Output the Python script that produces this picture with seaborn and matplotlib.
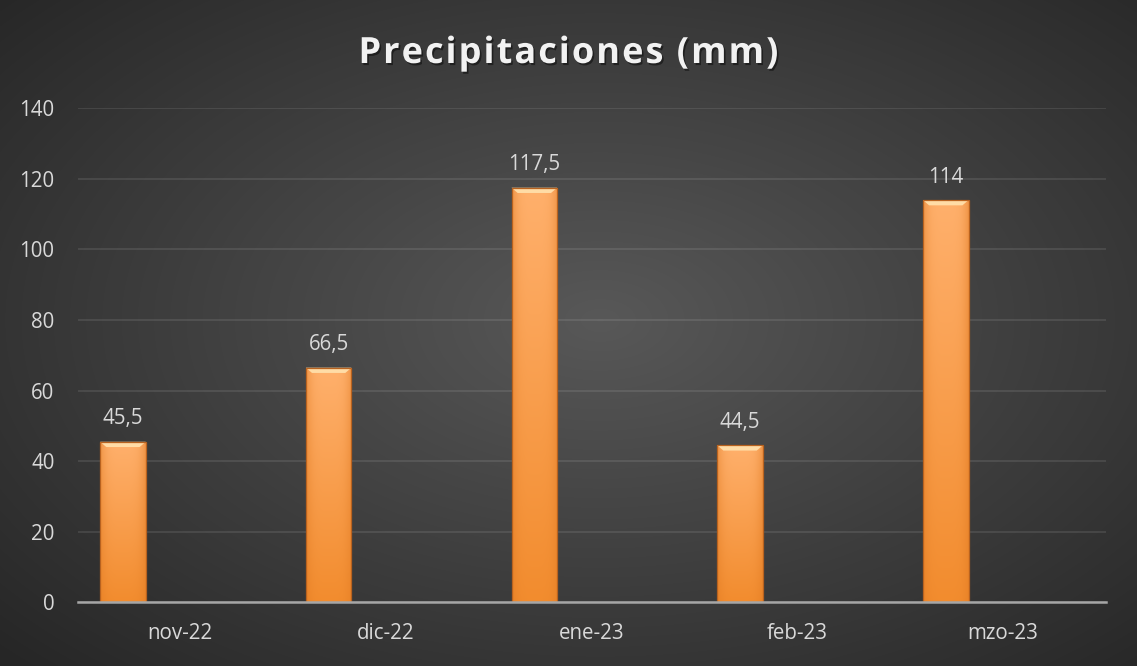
import numpy as np
import pandas as pd
import seaborn as sns
import matplotlib.pyplot as plt
import matplotlib.patheffects as pe
from matplotlib.colors import LinearSegmentedColormap, to_rgb
from matplotlib.patches import Polygon

# datos
meses = ["nov-22", "dic-22", "ene-23", "feb-23", "mzo-23"]
precipitacion = [45.5, 66.5, 117.5, 44.5, 114]
etiquetas = ["45,5", "66,5", "117,5", "44,5", "114"]
y_ticks = [0, 20, 40, 60, 80, 100, 120, 140]
titulo = "Precipitaciones (mm)"

sns.set_theme(style="dark")
plt.rcParams["font.family"] = ["Open Sans", "DejaVu Sans"]

W, H = 1137, 666
fig = plt.figure(figsize=(W / 100, H / 100), dpi=100)

# fondo con degradado radial
bg = fig.add_axes([0, 0, 1, 1], zorder=-10)
yy, xx = np.mgrid[0:H, 0:W]
r = np.sqrt(((xx - 600) / 720) ** 2 + ((yy - 320) / 430) ** 2)
bg_cmap = LinearSegmentedColormap.from_list("bg", ["#585858", "#262626"])
bg.imshow(r, cmap=bg_cmap, vmin=0, vmax=1.15, aspect="auto", extent=[0, 1, 0, 1])
bg.axis("off")

ax = fig.add_axes([77.5 / W, 1 - 602.3 / H, (1106 - 77.5) / W, (602.3 - 108.3) / H])
ax.patch.set_alpha(0)

df = pd.DataFrame({"mes": meses, "mm": precipitacion})
sns.barplot(data=df, x="mes", y="mm", order=meses, width=0.222,
            color="#f7963f", saturation=1, ax=ax, zorder=3,
            edgecolor="#b8621f", linewidth=0.9)

# las barras van a la izquierda de cada categoria (serie vacia a la derecha)
bars = list(ax.patches)
for p in bars:
    p.set_x(p.get_x() - 0.279)

# degradado naranja dentro de cada barra
light = np.array(to_rgb("#ffb06c"))
dark = np.array(to_rgb("#f28c2e"))
edge = np.array(to_rgb("#e07a22"))
ny, nx = 200, 40
tv = np.linspace(0, 1, ny)[:, None, None]
hx = np.abs(np.linspace(-1, 1, nx))[None, :, None] ** 4
grad = light * (1 - tv) + dark * tv
grad = grad * (1 - 0.5 * hx) + edge * 0.5 * hx
for p in bars:
    x0, w, h = p.get_x(), p.get_width(), p.get_height()
    im = ax.imshow(grad, extent=[x0, x0 + w, 0, h], aspect="auto", zorder=3.5)
    im.set_clip_path(p)
    dx, dy = 0.03, 1.5
    bevel = Polygon([(x0, h), (x0 + w, h), (x0 + w - dx, h - dy), (x0 + dx, h - dy)],
                    closed=True, facecolor="#ffdca6", edgecolor="none", zorder=3.6)
    ax.add_patch(bevel)
    p.set_facecolor("none")
    p.set_zorder(3.7)

ax.bar_label(ax.containers[0], labels=etiquetas, padding=9,
             color="#d9d9d9", fontsize=14.8)

ax.set_xlim(-0.5, len(meses) - 0.5)
ax.set_ylim(0, 140)
ax.set_yticks(y_ticks)
ax.set_xlabel("")
ax.set_ylabel("")
ax.tick_params(axis="y", length=0, pad=16.5, labelsize=14.8, labelcolor="#d9d9d9")
ax.tick_params(axis="x", length=0, pad=15, labelsize=14.8, labelcolor="#d9d9d9")

ax.yaxis.grid(True, color="white", alpha=0.1, linewidth=1.3, zorder=0)
ax.xaxis.grid(False)
ax.set_axisbelow(True)
for s in ["top", "right", "left"]:
    ax.spines[s].set_visible(False)
ax.spines["bottom"].set_color("#a6a6a6")
ax.spines["bottom"].set_linewidth(1.8)
ax.spines["bottom"].set_zorder(4)

# titulo con espaciado entre letras
title_kw = dict(fontsize=26, fontweight="bold", color="#f2f2f2", va="baseline",
                path_effects=[pe.SimplePatchShadow(offset=(1.2, -1.5), shadow_rgbFace="black", alpha=0.45),
                              pe.Normal()])
renderer = fig.canvas.get_renderer()
spacing = 2.0  # px
widths = []
for ch in titulo:
    t = fig.text(0, 0, ch if ch != " " else "a a", **title_kw)
    wpx = t.get_window_extent(renderer).width
    if ch == " ":
        t2 = fig.text(0, 0, "aa", **title_kw)
        wpx = wpx - t2.get_window_extent(renderer).width
        t2.remove()
    t.remove()
    widths.append(wpx)
total = sum(widths) + spacing * (len(titulo) - 1)
x = W / 2 - total / 2
for ch, wpx in zip(titulo, widths):
    if ch != " ":
        fig.text(x / W, 1 - 63 / H, ch, ha="left", **title_kw)
    x += wpx + spacing

fig.savefig("out.png", dpi=100)
